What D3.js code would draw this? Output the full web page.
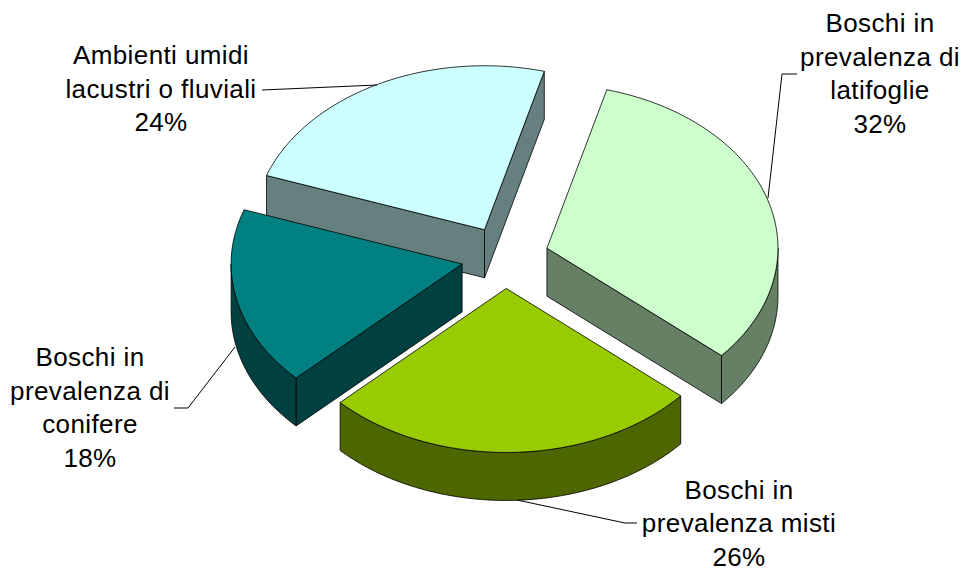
<!DOCTYPE html>
<html><head><meta charset="utf-8">
<script src="https://cdn.jsdelivr.net/npm/d3@7"></script>
<style>html,body{margin:0;padding:0;background:#fff}svg{display:block}</style>
</head><body><div id="c"></div>
<script>
const categories = ["Boschi in prevalenza di latifoglie","Boschi in prevalenza misti","Boschi in prevalenza di conifere","Ambienti umidi lacustri o fluviali"];
const values = [32.2,26.4,17.6,23.8];
const topColors = ["#CCFFCC","#99CC00","#008080","#CCFFFF"];
const sideColors = ["#668066","#4D6600","#004040","#668080"];
const labelLines = [["Boschi in","prevalenza di","latifoglie","32%"],["Boschi in","prevalenza misti","26%"],["Boschi in","prevalenza di","conifere","18%"],["Ambienti umidi","lacustri o fluviali","24%"]];
const labelPos = [[880,32],[739,498.5],[90,366],[161,64]];
const leaders = [[[797,74],[782,74],[768,198]],[[637,523],[625,523],[517,500]],[[174,408],[188,408],[235,347]],[[262,90],[377,85]]];

const W=966,H=571,cx=505,cy=257.3,rx=231,ry=164,depth=48,explode=0.19,lineH=33.5;
const svg=d3.select("#c").append("svg").attr("width",W).attr("height",H);
const pie=d3.pie().sort(null).startAngle(15*Math.PI/180).endAngle((360+15)*Math.PI/180);
const arcs=pie(values);
const px=d3.scaleLinear().domain([-1,1]).range([-rx,rx]);
const py=d3.scaleLinear().domain([-1,1]).range([-ry,ry]);
const pt=(a,ox,oy,z=0)=>[ox+px(Math.sin(a)),oy-py(Math.cos(a))+z];
function arcPts(a0,a1,ox,oy,z){const n=Math.max(2,Math.ceil((a1-a0)/0.02));return d3.range(n+1).map(i=>pt(a0+(a1-a0)*i/n,ox,oy,z));}
const line=d3.line();
const polys=arcs.map((d,i)=>{const m=(d.startAngle+d.endAngle)/2;return {i,d,ox:cx+explode*px(Math.sin(m)),oy:cy-explode*py(Math.cos(m))};});
// painter order: back to front
[3,0,2,1].forEach(k=>{
  const {i,d,ox,oy}=polys[k];const g=svg.append("g");
  const a0=d.startAngle,a1=d.endAngle;
  const sty=s=>s.attr("fill",sideColors[i]).attr("stroke","#000").attr("stroke-width",0.8).attr("stroke-linejoin","round");
  // cut faces
  [a0,a1].forEach(a=>{
    const e=pt(a,ox,oy);
    const other=pt((a0+a1)/2,ox,oy);
    const cross=(e[0]-ox)*(other[1]-oy)-(e[1]-oy)*(other[0]-ox);
    const dx=e[0]-ox;
    if((dx>0&&cross<0)||(dx<0&&cross>0)){
      sty(g.append("path")).attr("d",line([[ox,oy],e,[e[0],e[1]+depth],[ox,oy+depth]])+"Z");
    }
  });
  // outer wall (front half only)
  const lo=Math.max(a0,Math.PI/2),hi=Math.min(a1,1.5*Math.PI);
  if(hi>lo){
    const top=arcPts(lo,hi,ox,oy,0),bot=arcPts(lo,hi,ox,oy,depth).reverse();
    sty(g.append("path")).attr("d",line(top.concat(bot))+"Z");
  }
  g.append("path").attr("fill",topColors[i]).attr("stroke","#000").attr("stroke-width",0.8).attr("stroke-linejoin","round")
    .attr("d",line([[ox,oy]].concat(arcPts(a0,a1,ox,oy,0)))+"Z");
});
leaders.forEach(l=>svg.append("path").attr("d",line(l)).attr("fill","none").attr("stroke","#000").attr("stroke-width",1));
labelLines.forEach((ls,i)=>{
  const t=svg.append("text").attr("font-family","'Liberation Sans',Arial,sans-serif").attr("font-size",26).attr("letter-spacing",0.4).attr("text-anchor","middle").attr("fill","#000");
  ls.forEach((s,j)=>t.append("tspan").attr("x",labelPos[i][0]).attr("y",labelPos[i][1]+j*lineH).text(s));
});
</script></body></html>
